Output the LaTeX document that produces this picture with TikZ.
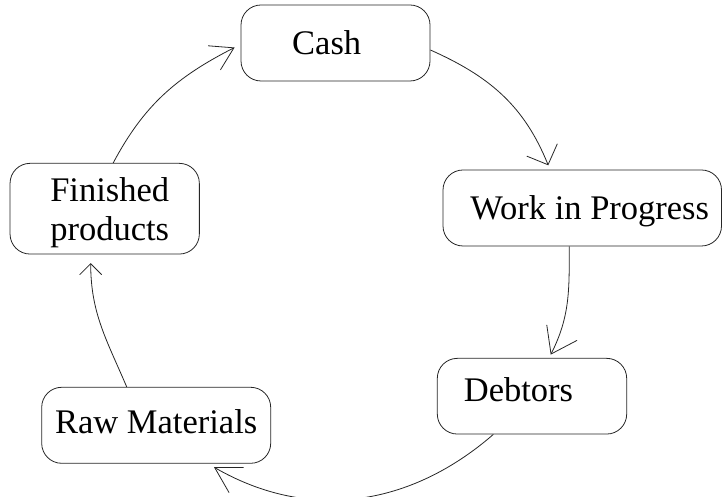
\documentclass[tikz,border=0pt]{standalone}
\usepackage{fontspec}
\setmainfont{Liberation Serif}
\usetikzlibrary{arrows.meta}
\begin{document}
\begin{tikzpicture}[x=1pt,y=1pt,
  box/.style={draw=black!85, rounded corners=20pt, line width=0.8pt, inner sep=0pt,
    font=\fontsize{34.5}{39}\selectfont},
  flow/.style 2 args={draw=black!85, line width=0.8pt, -{Straight Barb[length=#1,width=#2]}}]
\useasboundingbox (0,0) rectangle (723,497);
\node[box, minimum width=189pt, minimum height=76pt, text height=24pt, text depth=0pt]
  (cash) at (335.5,454) {\hspace*{-8.8pt}Cash\hspace*{8.8pt}};
\node[box, minimum width=278.5pt, minimum height=76pt, text height=28pt, text depth=4pt]
  (wip) at (582.25,289) {\hspace*{7.5pt}Work in Progress\hspace*{-7.5pt}};
\node[box, minimum width=189.4pt, minimum height=75.7pt, text height=20pt, text depth=9pt]
  (deb) at (532,100.8) {\hspace*{-13.5pt}Debtors\hspace*{13.5pt}};
\node[box, minimum width=229pt, minimum height=76pt, text height=22pt, text depth=6pt]
  (raw) at (156.2,71.7) {Raw Materials};
\node[box, minimum width=189.3pt, minimum height=90.7pt, text height=10pt, text depth=24pt]
  (fin) at (104.7,288.3) {\hspace*{5pt}\begin{tabular}[t]{@{}c@{}}Finished\\products\end{tabular}\hspace*{-5pt}};
\draw[flow={22pt}{27pt}] ([xshift=8.5pt]fin.north) to[out=62,in=207] ([xshift=-6pt,yshift=-4.5pt]cash.west);
\draw[flow={16pt}{33pt}] ([yshift=-7pt]cash.east) to[out=-24,in=112] ([xshift=-34pt,yshift=4.3pt]wip.north);
\draw[flow={24pt}{34pt}] ([xshift=-13pt]wip.south) to[out=-90,in=63] ([xshift=18.7pt,yshift=3.3pt]deb.north);
\draw[flow={25pt}{29pt}] ([xshift=-38.7pt]deb.south) to[out=221,in=-30] ([xshift=57.8pt,yshift=-3.5pt]raw.south);
\draw[flow={11pt}{22pt}] ([xshift=-29.5pt]raw.north) to[out=113,in=-90] ([xshift=-14pt,yshift=-8.7pt]fin.south);
\end{tikzpicture}
\end{document}
